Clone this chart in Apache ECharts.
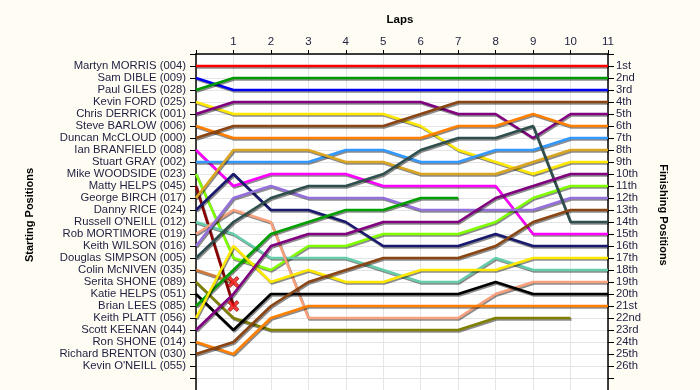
<!DOCTYPE html>
<html><head><meta charset="utf-8">
<script src="https://cdn.jsdelivr.net/npm/echarts@6/dist/echarts.min.js"></script>
<style>html,body{margin:0;padding:0;background:#fffdf3;}#c{width:700px;height:390px;}</style>
</head><body><div id="c"></div>
<script>
const startNames = ["Martyn MORRIS (004)","Sam DIBLE (009)","Paul GILES (028)","Kevin FORD (025)","Chris DERRICK (001)","Steve BARLOW (006)","Duncan McCLOUD (000)","Ian BRANFIELD (008)","Stuart GRAY (002)","Mike WOODSIDE (023)","Matty HELPS (045)","George BIRCH (017)","Danny RICE (024)","Russell O'NEILL (012)","Rob MORTIMORE (019)","Keith WILSON (016)","Douglas SIMPSON (005)","Colin McNIVEN (035)","Serita SHONE (089)","Katie HELPS (051)","Brian LEES (085)","Keith PLATT (056)","Scott KEENAN (044)","Ron SHONE (014)","Richard BRENTON (030)","Kevin O'NEILL (055)"];
const finishLabels = ["1st","2nd","3rd","4th","5th","6th","7th","8th","9th","10th","11th","12th","13th","14th","15th","16th","17th","18th","19th","20th","21st","22nd","23rd","24th","25th","26th"];
const lapTicks = [0,1,2,3,4,5,6,7,8,9,10,11];

// positions per lap (lap 0 = start)
const martyn  = [1,1,1,1,1,1,1,1,1,1,1,1];
const sam     = [2,3,3,3,3,3,3,3,3,3,3,3];
const paul    = [3,2,2,2,2,2,2,2,2,2,2,2];
const kevinF  = [4,5,5,5,5,5,6,8,9,10,9,9];
const chris   = [5,4,4,4,4,4,4,5,5,7,5,5];
const steve   = [6,7,7,7,7,7,7,6,6,5,6,6];
const duncan  = [7,6,6,6,6,6,5,4,4,4,4,4];
const ian     = [8,11,10,10,10,11,11,11,11,15,15,15];
const stuart  = [9,9,9,9,8,8,9,9,8,8,7,7];
const mike    = [10,17,18,16,16,15,15,15,14,12,11,11];
const matty   = [11,21];
const george  = [12,8,8,8,9,9,10,10,10,9,8,8];
const danny   = [13,10,13,13,14,16,16,16,15,16,16,16];
const russell = [14,15,17,17,17,18,19,19,17,18,18,18];
const rob     = [15,13,14,22,22,22,22,22,20,19,19,19];
const keithW  = [16,12,11,12,12,12,13,13,13,13,12,12];
const douglas = [17,14,12,11,11,10,8,7,7,6,14,14];
const colin   = [18,19];
const serita  = [19,22,23,23,23,23,23,23,22,22,22];
const katie   = [20,23,20,20,20,20,20,20,19,20,20,20];
const brian   = [21,18,15,14,13,13,12,12];
const keithP  = [22,16,19,18,19,19,18,18,18,17,17,17];
const scott   = [23,20,16,15,15,14,14,14,12,11,10,10];
const ron     = [24,25,22,21,21,21,21,21,21,21,21,21];
const richard = [25,24,21,19,18,17,17,17,16,14,13,13];
const kevinO  = [];

// retirements: [lap, position]
const retirements = [[1,19],[1,21]];

const driverSeries = [
  [martyn,'#ff0000'],[sam,'#0000f0'],[paul,'#009a00'],[kevinF,'#ffe800'],[chris,'#800080'],
  [steve,'#ff8000'],[duncan,'#8b4513'],[ian,'#ff00ff'],[stuart,'#3399ff'],[mike,'#80ff00'],
  [matty,'#8b0000'],[george,'#daa520'],[danny,'#191970'],[russell,'#66cdaa'],[rob,'#f9a07c'],
  [keithW,'#9370db'],[douglas,'#2f4f4f'],[colin,'#cd7a3c'],[serita,'#808000'],[katie,'#000000'],
  [brian,'#00a000'],[keithP,'#ffe800'],[scott,'#800080'],[ron,'#ff8000'],[richard,'#8b4513'],[kevinO,'#888888']
];

const font = 'Liberation Sans, Arial, sans-serif';
const txt = '#1e1e40';
const series = driverSeries.map((d,i)=>({
  type:'line', name:startNames[i], symbol:'none', animation:false,
  data:d[0].map((p,lap)=>[lapTicks[lap],p]),
  lineStyle:{color:d[1],width:2.6,shadowColor:'rgba(0,0,0,0.45)',shadowOffsetX:1,shadowOffsetY:1.5,shadowBlur:0},
  itemStyle:{color:d[1]}, z:2
}));
series.push({
  type:'scatter', animation:false, z:5,
  symbol:'path://M2,0 L5,3 L8,0 L10,2 L7,5 L10,8 L8,10 L5,7 L2,10 L0,8 L3,5 L0,2 Z',
  symbolSize:11,
  itemStyle:{color:'#ff1010',borderColor:'#900000',borderWidth:1},
  data:retirements
});

const chart = echarts.init(document.getElementById('c'),null,{renderer:'canvas'});
chart.setOption({
  backgroundColor:'#fffdf3',
  animation:false,
  grid:{left:196,right:92,top:54,bottom:0,show:true,backgroundColor:'#ffffff',borderWidth:0},
  xAxis:{type:'value',position:'top',min:0,max:11,interval:1,
    axisLine:{lineStyle:{color:'#000',width:1.5}},
    axisTick:{show:true,length:4,lineStyle:{color:'#000'}},
    axisLabel:{color:txt,fontFamily:font,fontSize:11.5,margin:6,formatter:v=>v===0?'':String(v)},
    splitLine:{show:true,lineStyle:{color:'#e4e4e4',width:1}}},
  yAxis:[
    {type:'value',inverse:true,min:0,max:28,interval:1,position:'left',
     axisLine:{show:true,lineStyle:{color:'#000',width:1.5}},
     axisTick:{show:true,length:6,lineStyle:{color:'#000'}},
     axisLabel:{color:txt,fontFamily:font,fontSize:11.3,margin:10,formatter:v=>startNames[v-1]||''},
     splitLine:{show:true,lineStyle:{color:'#e4e4e4',width:1}}},
    {type:'value',inverse:true,min:0,max:28,interval:1,position:'right',
     axisLine:{show:true,lineStyle:{color:'#000',width:1.5}},
     axisTick:{show:true,length:6,lineStyle:{color:'#000'}},
     axisLabel:{color:txt,fontFamily:font,fontSize:11.3,margin:8,formatter:v=>finishLabels[v-1]||''},
     splitLine:{show:false}}
  ],
  graphic:[
    {type:'text',position:[400,20],style:{text:'Laps',font:'bold 11.5px '+font,fill:'#000',textAlign:'center',textVerticalAlign:'middle'}},
    {type:'text',rotation:Math.PI/2,position:[30,215],style:{text:'Starting Positions',font:'bold 11px '+font,fill:'#000',textAlign:'center',textVerticalAlign:'middle'}},
    {type:'text',rotation:-Math.PI/2,position:[663,215],style:{text:'Finishing Positions',font:'bold 11px '+font,fill:'#000',textAlign:'center',textVerticalAlign:'middle'}}
  ],
  series:series
});
</script></body></html>
